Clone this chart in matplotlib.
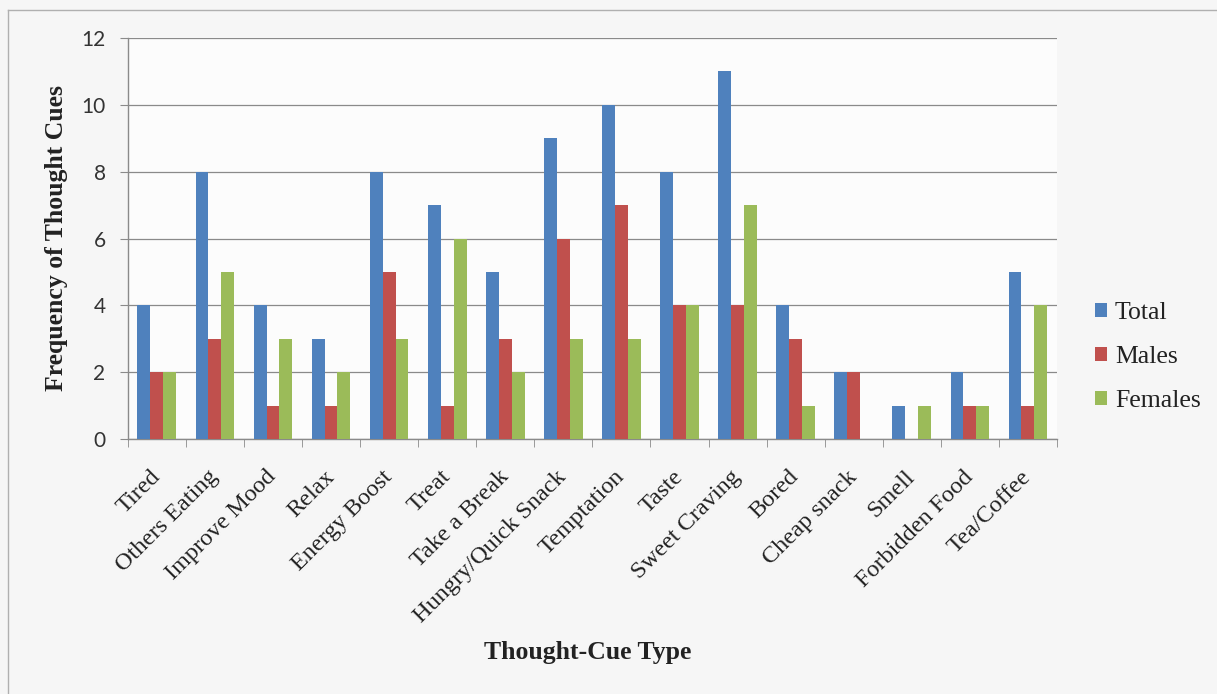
import matplotlib
matplotlib.use("Agg")
import matplotlib.pyplot as plt
import numpy as np
from matplotlib.lines import Line2D

categories = ["Tired", "Others Eating", "Improve Mood", "Relax", "Energy Boost",
              "Treat", "Take a Break", "Hungry/Quick Snack", "Temptation", "Taste",
              "Sweet Craving", "Bored", "Cheap snack", "Smell", "Forbidden Food",
              "Tea/Coffee"]
total = [4, 8, 4, 3, 8, 7, 5, 9, 10, 8, 11, 4, 2, 1, 2, 5]
males = [2, 3, 1, 1, 5, 1, 3, 6, 7, 4, 4, 3, 2, 0, 1, 1]
females = [2, 5, 3, 2, 3, 6, 2, 3, 3, 4, 7, 1, 0, 1, 1, 4]
series_names = ["Total", "Males", "Females"]
colors = ["#4F81BD", "#C0504D", "#9BBB59"]
yticks = [0, 2, 4, 6, 8, 10, 12]

serif = "Liberation Serif"
text_color = "#222222"

fig = plt.figure(figsize=(12.17, 6.94), dpi=100, facecolor="#f6f6f6")
ax = fig.add_axes([0.105, 0.3674, 0.7635, 0.5778])
ax.set_facecolor("#fcfcfc")

x = np.arange(len(categories))
w = 0.222
for i, (vals, name, c) in enumerate(zip([total, males, females], series_names, colors)):
    ax.bar(x + (i - 1) * w, vals, width=w, color=c, label=name, zorder=3)

ax.set_xlim(-0.5, len(categories) - 0.5)
ax.set_ylim(0, 12)
ax.set_yticks(yticks)
ax.set_yticklabels([str(v) for v in yticks], fontsize=15, family="Lato", color="#333333")
ax.grid(axis="y", color="#8a8a8a", linewidth=0.9, zorder=0)
ax.set_axisbelow(True)

for side in ["top", "right"]:
    ax.spines[side].set_visible(False)
for side in ["left", "bottom"]:
    ax.spines[side].set_color("#8a8a8a")
    ax.spines[side].set_linewidth(1.0)

ax.tick_params(axis="y", length=6, color="#8a8a8a", pad=10)
ax.set_xticks(x)
ax.set_xticklabels(categories, rotation=45, ha="right", va="center",
                   rotation_mode="anchor", fontsize=17.5, family=serif, color=text_color)
ax.tick_params(axis="x", length=0, pad=25)
ax.set_xticks(np.arange(-0.5, len(categories)), minor=True)
ax.tick_params(axis="x", which="minor", length=6, color="#8a8a8a")

fig.text(57 / 1217, 1 - 238 / 694, "Frequency of Thought Cues", rotation=90,
         fontsize=18.5, family=serif, fontweight="bold", color=text_color,
         ha="center", va="center")
fig.text(588 / 1217, 1 - 653 / 694, "Thought-Cue Type", fontsize=18.5, family=serif,
         fontweight="bold", color=text_color, ha="center", va="center")

leg = ax.legend(loc="center left", bbox_to_anchor=(1.03, 0.205), frameon=False,
                prop={"family": serif, "size": 18.5}, handlelength=0.47,
                handleheight=0.47, handletextpad=0.3, labelspacing=0.86,
                borderaxespad=0.0)
for t in leg.get_texts():
    t.set_color(text_color)

# outer chart frame
fig.add_artist(Line2D([0.0066, 0.0066], [0.0, 0.986], transform=fig.transFigure,
                      color="#b0b0b0", linewidth=1.0))
fig.add_artist(Line2D([0.0066, 1.0], [0.986, 0.986], transform=fig.transFigure,
                      color="#b0b0b0", linewidth=1.0))

fig.savefig("out.png", dpi=100, facecolor=fig.get_facecolor())
